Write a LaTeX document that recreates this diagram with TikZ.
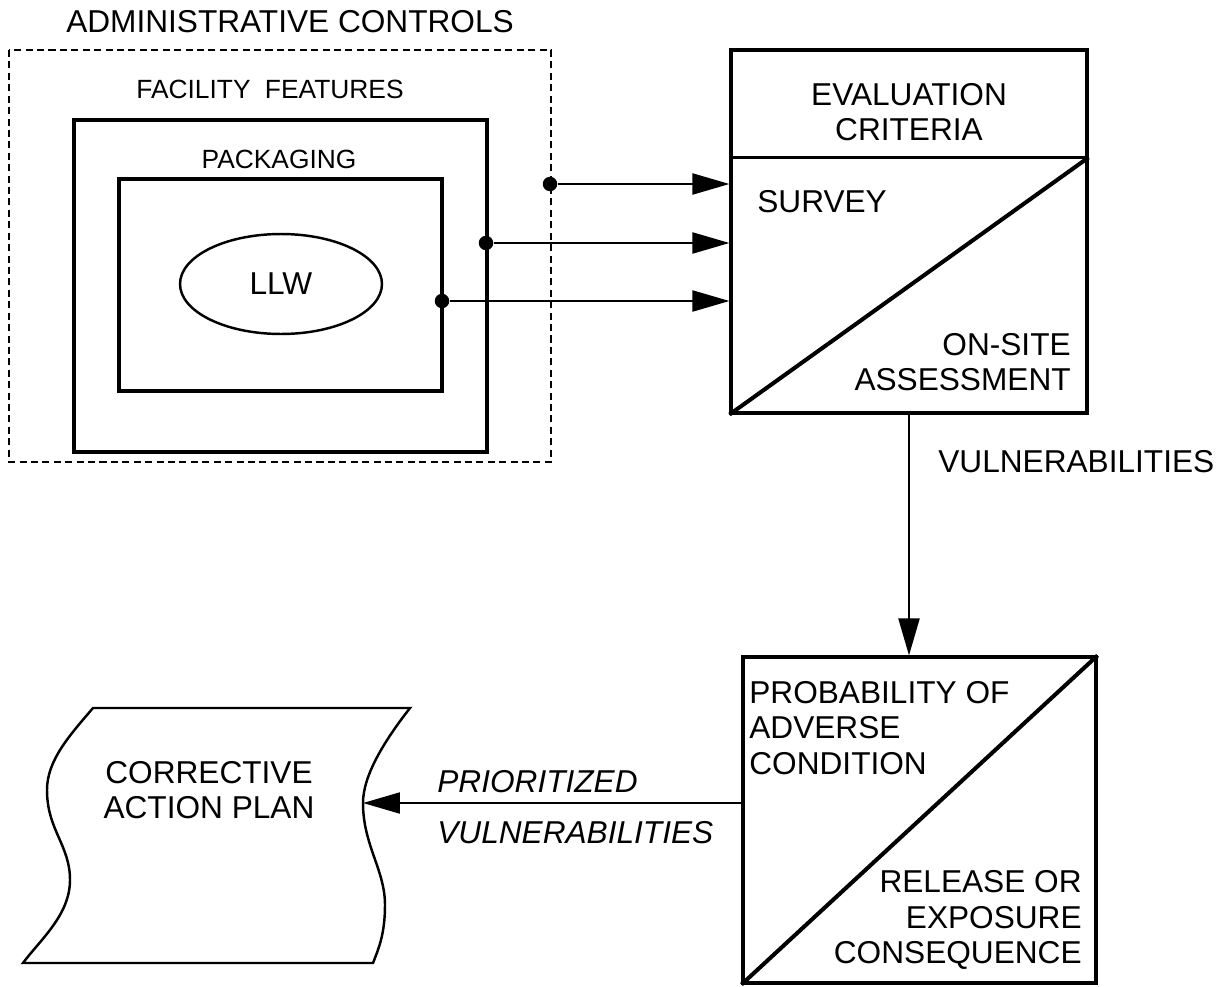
\documentclass[tikz,border=0pt]{standalone}
\usepackage{fontspec}
\setmainfont{Liberation Sans}
\usetikzlibrary{arrows.meta,positioning,shapes.geometric}

\tikzset{
  box/.style={draw, line width=1.8pt},
  conn/.style={line width=1.2pt, -{Triangle[length=7.4mm,width=4.2mm]}},
  dot/.style={circle, fill, inner sep=0pt, minimum size=2.9mm},
  lbl/.style={font=\fontsize{18}{20}\selectfont, inner sep=0pt},
  smalllbl/.style={font=\fontsize{15}{18}\selectfont, inner sep=0pt},
}

\begin{document}
\begin{tikzpicture}[x=0.02cm, y=-0.02cm]
    \useasboundingbox (0,0) rectangle (1227,987);

    % Administrative controls (dashed)
    \node[lbl] (admin) at (290,22) {ADMINISTRATIVE CONTROLS};
    \draw[line width=1.4pt, dash pattern=on 4pt off 2.5pt] (9,50) rectangle (551,462);

    % Facility features and packaging
    \node[smalllbl] (facility) at (270,89) {FACILITY\hspace{4pt} FEATURES};
    \draw[box] (74,120) rectangle (487,452);
    \node[smalllbl] (packaging) at (279,159) {PACKAGING};
    \draw[box] (119,179) rectangle (442,391);
    \node[ellipse, draw, line width=1.4pt, minimum width=4.04cm, minimum height=2cm,
          lbl] (llw) at (281,284) {LLW};

    % Connection dots
    \node[dot] (d1) at (550,184) {};
    \node[dot] (d2) at (486,243) {};
    \node[dot] (d3) at (442,301) {};

    % Evaluation box
    \node[box, minimum width=7.12cm, minimum height=7.26cm, inner sep=0pt] (eval) at (909,231.5) {};
    \path (eval.north west) ++(0,109) coordinate (divL);
    \draw[box] (divL) -- (divL -| eval.east);
    \draw[line width=2.3pt] (eval.south west) -- (divL -| eval.east);
    \node[lbl, align=center] (crit) at (909,112) {EVALUATION\\CRITERIA};
    \node[lbl, anchor=west] (survey) at (757,202) {SURVEY};
    \node[lbl, anchor=east, align=right] (onsite) at (1071,362) {ON-SITE\\ASSESSMENT};

    \draw[conn] (d1) -- (d1 -| eval.west);
    \draw[conn] (d2) -- (d2 -| eval.west);
    \draw[conn] (d3) -- (d3 -| eval.west);

    % Risk box
    \node[box, minimum width=7.06cm, minimum height=6.52cm, inner sep=0pt] (risk) at (919.5,820) {};
    \draw[line width=2.3pt] (risk.south west) -- (risk.north east);
    \node[lbl, anchor=west, align=left] (prob) at (749,728) {PROBABILITY OF\\ADVERSE\\CONDITION};
    \node[lbl, anchor=east, align=right] (release) at (1082,920) {RELEASE OR\\EXPOSURE\\CONSEQUENCE};

    \draw[conn] (eval.south) -- (eval.south |- risk.north);
    \node[lbl, anchor=west] (vuln) at (938,462) {VULNERABILITIES};

    % Corrective action plan
    \draw[line width=1.4pt] (93,708) -- (410,708)
        .. controls (385,740) and (363,775) .. (363,803)
        .. controls (363,845) and (385,870) .. (385,905)
        .. controls (385,935) and (378,950) .. (373,963)
        -- (23,963)
        .. controls (40,940) and (70,915) .. (70,880)
        .. controls (70,845) and (47,830) .. (47,790)
        .. controls (47,760) and (70,735) .. (93,708) -- cycle;
    \coordinate (planR) at (363,803);
    \node[lbl, align=center] (plan) at (209,790) {CORRECTIVE\\ACTION PLAN};

    \draw[conn] (risk.west |- planR) -- (planR);
    \node[lbl, anchor=west, font=\fontsize{18}{20}\selectfont\itshape] (prio) at (437,782) {PRIORITIZED};
    \node[lbl, anchor=west, font=\fontsize{18}{20}\selectfont\itshape] (prio2) at (437,833) {VULNERABILITIES};

\end{tikzpicture}
\end{document}
